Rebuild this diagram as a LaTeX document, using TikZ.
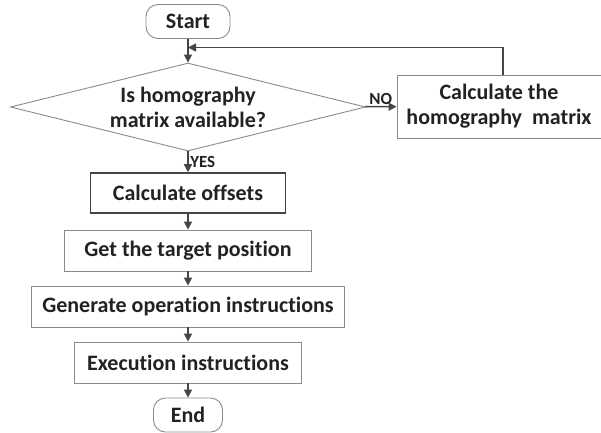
\documentclass[tikz,border=0pt]{standalone}
\usepackage{fontspec}
\setmainfont{Carlito}[Ligatures=NoCommon]
\usepackage{xcolor}
\usepackage{tikz}
\usetikzlibrary{shapes.geometric,arrows.meta}
\definecolor{boxgray}{HTML}{8A8A8A}
\definecolor{arrgray}{HTML}{454545}
\definecolor{txtgray}{HTML}{222222}
\begin{document}
\begin{tikzpicture}[x=1pt, y=-1pt,
    font=\fontsize{22}{25}\selectfont\bfseries, text=txtgray,
    box/.style={draw=boxgray, line width=0.9pt, minimum height=41pt, inner sep=0pt, align=center},
    term/.style={box, rounded corners=12pt, minimum height=34pt},
    arr/.style={draw=arrgray, line width=1.5pt, -{Triangle[length=8pt, width=8pt]}},
    lbl/.style={font=\fontsize{17}{17}\selectfont\bfseries, inner sep=1.5pt}]
    \useasboundingbox (0,0) rectangle (601,432);
    \node[term, minimum width=84pt] (start) at (188,21.5) {Start};
    \node[box, diamond, aspect=4.03, minimum width=355pt, minimum height=88pt] (avail) at (188,107) {Is homography\\matrix available?};
    \node[box, minimum width=204pt, minimum height=63pt] (homo) at (499,106.5) {Calculate the\\homography~ matrix};
    \node[box, draw=arrgray, line width=1.6pt, minimum width=195pt, minimum height=40pt] (offsets) at (188,193) {Calculate offsets};
    \node[box, minimum width=247pt] (target) at (188,250.5) {Get the target position};
    \node[box, minimum width=313pt] (generate) at (188,306.5) {Generate operation instructions};
    \node[box, minimum width=227pt] (exec) at (188,362.5) {Execution instructions};
    \node[term, minimum width=69pt] (end) at (188,415) {End};
    \coordinate (back) at (188,47.5);
    \draw[arr] (start) -- (avail);
    \draw[arr] (avail) -- (offsets) node[midway, right, lbl] {YES};
    \draw[arr] (avail) -- (homo) node[midway, above, lbl] {NO};
    \draw[arr] ([xshift=4pt]homo.north) |- (back);
    \draw[arr] (offsets) -- (target);
    \draw[arr] (target) -- (generate);
    \draw[arr] (generate) -- (exec);
    \draw[arr] (exec) -- (end);
\end{tikzpicture}
\end{document}
